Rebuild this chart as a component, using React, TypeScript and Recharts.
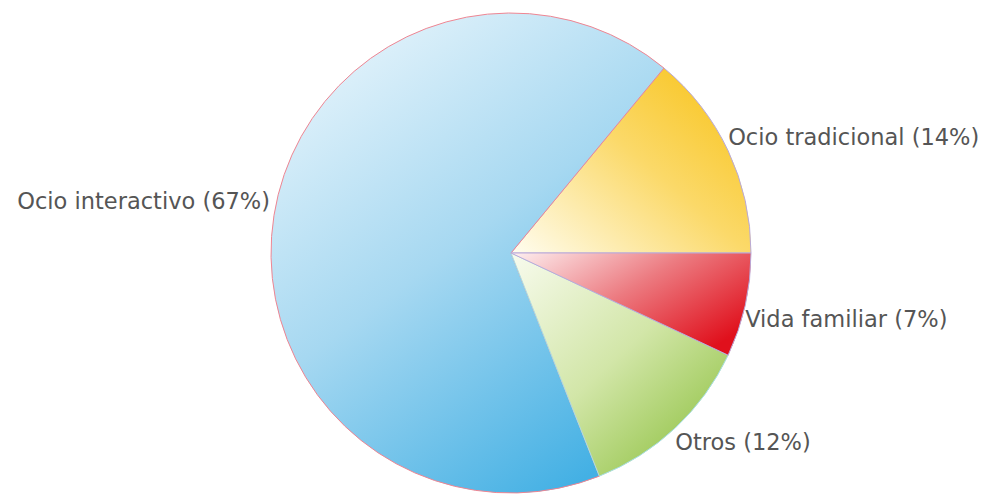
import React from 'react';
import { PieChart, Pie, Cell } from 'recharts';

const categories = ['Ocio tradicional', 'Ocio interactivo', 'Otros', 'Vida familiar'];
const shares = [14, 67, 12, 7];

const gradientIds = ['gTrad', 'gInter', 'gOtros', 'gVida'];
const strokes = ['#b9a9d9', '#ef8592', '#a9dfe6', '#b9a9d9'];

const data = categories.map((name, i) => ({ name, value: shares[i] }));

const RADIAN = Math.PI / 180;

const renderLabel = (props: any) => {
  const { cx, cy, midAngle, outerRadius, name, value } = props;
  const cos = Math.cos(-midAngle * RADIAN);
  const sin = Math.sin(-midAngle * RADIAN);
  const x = cx + outerRadius * cos + (cos >= 0 ? 0 : -4);
  const y = cy + outerRadius * sin + (sin >= 0 ? 14 : -14);
  return (
    <text
      x={x}
      y={y}
      textAnchor={cos >= 0 ? 'start' : 'end'}
      dominantBaseline="central"
      fill="#555555"
      fontSize={22.5}
      fontFamily="'DejaVu Sans', Verdana, sans-serif"
    >
      {`${name} (${value}%)`}
    </text>
  );
};

export default function App() {
  return (
    <div style={{ width: 989, height: 495, background: '#ffffff' }}>
      <style>{'body{margin:0;}'}</style>
      <PieChart width={989} height={495} margin={{ top: 0, right: 0, bottom: 0, left: 0 }}>
        <defs>
          <linearGradient id="gTrad" x1="0" y1="1" x2="1" y2="0.1">
            <stop offset="0%" stopColor="#fffdf0" />
            <stop offset="55%" stopColor="#fbd969" />
            <stop offset="100%" stopColor="#f8c31a" />
          </linearGradient>
          <linearGradient id="gInter" x1="0.15" y1="0" x2="0.75" y2="1">
            <stop offset="0%" stopColor="#eaf6fc" />
            <stop offset="50%" stopColor="#a6d8f1" />
            <stop offset="100%" stopColor="#43b0e4" />
          </linearGradient>
          <linearGradient id="gOtros" x1="0" y1="0" x2="0.9" y2="1">
            <stop offset="0%" stopColor="#f8fbee" />
            <stop offset="50%" stopColor="#d2e6a8" />
            <stop offset="100%" stopColor="#8bbf3c" />
          </linearGradient>
          <linearGradient id="gVida" x1="0" y1="0" x2="1" y2="0.7">
            <stop offset="0%" stopColor="#fdf0f1" />
            <stop offset="50%" stopColor="#ec7a80" />
            <stop offset="100%" stopColor="#e0101c" />
          </linearGradient>
        </defs>
        <Pie
          data={data}
          dataKey="value"
          nameKey="name"
          cx={511}
          cy={253}
          innerRadius={0}
          outerRadius={240}
          startAngle={0}
          endAngle={360}
          label={renderLabel}
          labelLine={false}
          isAnimationActive={false}
        >
          {data.map((d, i) => (
            <Cell key={d.name} fill={`url(#${gradientIds[i]})`} stroke={strokes[i]} strokeWidth={1} />
          ))}
        </Pie>
      </PieChart>
    </div>
  );
}
